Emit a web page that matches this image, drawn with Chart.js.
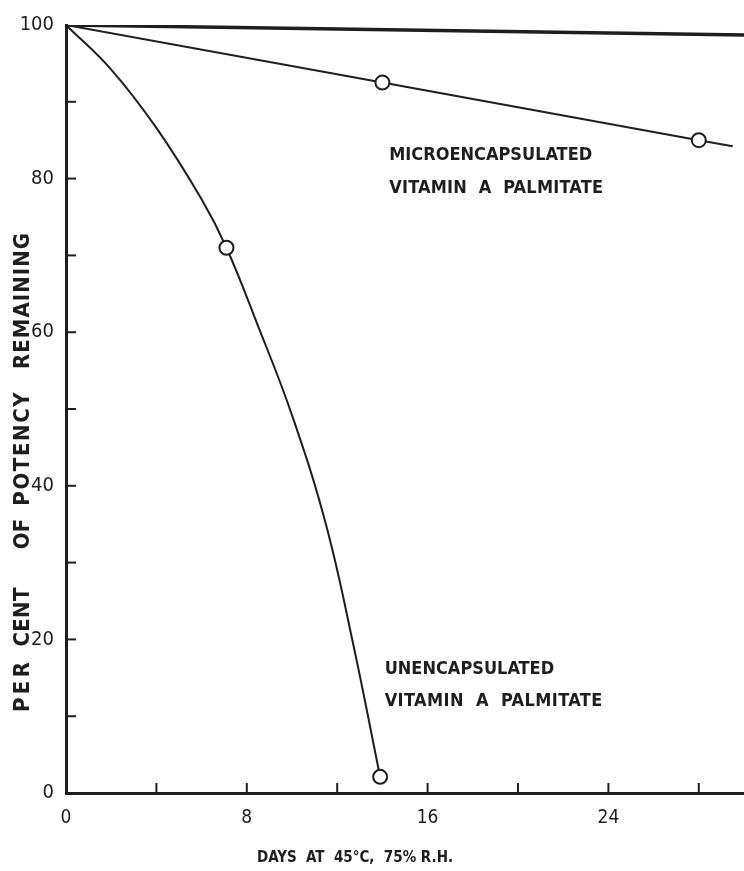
<!DOCTYPE html>
<html>
<head>
<meta charset="utf-8">
<script src="https://cdn.jsdelivr.net/npm/chart.js@4"></script>
<style>
  html, body { margin: 0; padding: 0; background: #fff; }
  #wrap { width: 744px; height: 871px; }
</style>
</head>
<body>
<div id="wrap"><canvas id="c" width="744" height="871"></canvas></div>
<script>
// data
var topDays = [0, 30];
var topValues = [100, 98.7];

var microDays = [0, 14, 28, 29.5];
var microValues = [100, 92.5, 85, 84.2];
var microMarks = [0, 7, 7, 0];

var unencDays = [0, 2, 4, 6, 7.1, 8.5, 10, 11.5, 12.7, 13.9];
var unencValues = [100, 94.2, 86.6, 77.3, 71, 60.8, 49.2, 35, 19.5, 2.1];
var unencMarks = [0, 0, 0, 0, 7, 0, 0, 0, 0, 7];

var xLabels = [0, 8, 16, 24];
var yLabels = [0, 20, 40, 60, 80, 100];

function pts(xs, ys) {
  return xs.map((x, i) => ({ x: x, y: ys[i] }));
}

var ink = "#1e1e1e";
var font = "'Liberation Sans Narrow', 'DejaVu Sans Condensed', sans-serif";

// draw a word spread to a given length
function spread(c, t, cx, cy, len) {
  c.letterSpacing = "0px";
  const w = c.measureText(t).width;
  const sp = Math.max(0, (len - w) / t.length);
  c.letterSpacing = sp + "px";
  c.fillText(t, cx + sp / 2, cy);
  c.letterSpacing = "0px";
}

// inner ticks and free text
const extras = {
  id: "extras",
  afterDraw(chart) {
    const c = chart.ctx, xs = chart.scales.x, ys = chart.scales.y;
    const a = chart.chartArea;
    c.save();
    c.strokeStyle = ink;
    c.lineWidth = 2;
    for (let d = 4; d < 30; d += 4) {
      const px = xs.getPixelForValue(d);
      c.beginPath(); c.moveTo(px, a.bottom); c.lineTo(px, a.bottom - 10); c.stroke();
    }
    for (let v = 10; v < 100; v += 10) {
      const py = ys.getPixelForValue(v);
      c.beginPath(); c.moveTo(a.left, py); c.lineTo(a.left + 10, py); c.stroke();
    }
    c.fillStyle = ink;
    c.font = "bold 18px " + font;
    c.textBaseline = "middle";
    c.textAlign = "left";
    const lab = (t, d, v, len) => {
      c.letterSpacing = "0px";
      const w = c.measureText(t).width;
      const sp = Math.max(0, (len - w) / t.length);
      c.letterSpacing = sp + "px";
      c.fillText(t, xs.getPixelForValue(d), ys.getPixelForValue(v));
      c.letterSpacing = "0px";
    };
    lab("MICROENCAPSULATED", 14.3, 83, 200);
    lab("VITAMIN  A  PALMITATE", 14.3, 78.7, 214);
    lab("UNENCAPSULATED", 14.1, 16.1, 168);
    lab("VITAMIN  A  PALMITATE", 14.1, 12, 218);
    c.textAlign = "center";
    c.font = "bold 15px " + font;
    spread(c, "DAYS  AT  45°C,  75% R.H.", 355, 858, 194);
    c.translate(23, 0);
    c.rotate(-Math.PI / 2);
    c.font = "bold 22px " + font;
    spread(c, "REMAINING", -301, 0, 137);
    spread(c, "POTENCY", -449, 0, 115);
    spread(c, "OF", -534, 0, 28);
    spread(c, "CENT", -617, 0, 59);
    spread(c, "PER", -687, 0, 53);
    c.restore();
  }
};

const lineSet = (data, radius, tension) => ({
  data: data,
  borderColor: ink,
  borderWidth: 2,
  pointRadius: radius,
  pointBackgroundColor: "#fff",
  pointBorderColor: ink,
  pointBorderWidth: 2,
  tension: tension,
  fill: false
});

new Chart(document.getElementById("c"), {
  type: "line",
  data: {
    datasets: [
      Object.assign(lineSet(pts(topDays, topValues), 0, 0), { borderWidth: 3.5 }),
      lineSet(pts(microDays, microValues), microMarks, 0),
      lineSet(pts(unencDays, unencValues), unencMarks, 0.4)
    ]
  },
  options: {
    responsive: false,
    animation: false,
    layout: { autoPadding: false, padding: { top: 25, right: 0, left: 0, bottom: 0 } },
    plugins: { legend: { display: false }, tooltip: { enabled: false } },
    scales: {
      x: {
        type: "linear",
        min: 0, max: 30,
        afterFit: s => { s.height = 78; },
        afterBuildTicks: s => { s.ticks = xLabels.map(v => ({ value: v })); },
        ticks: { color: ink, padding: 6, font: { family: font, size: 19 } },
        grid: { display: false },
        border: { color: ink, width: 3 }
      },
      y: {
        min: 0, max: 100,
        afterFit: s => { s.width = 66; },
        afterBuildTicks: s => { s.ticks = yLabels.map(v => ({ value: v })); },
        ticks: { color: ink, padding: 4, font: { family: font, size: 20 } },
        grid: { display: false },
        border: { color: ink, width: 3 }
      }
    }
  },
  plugins: [extras]
});
</script>
</body>
</html>
